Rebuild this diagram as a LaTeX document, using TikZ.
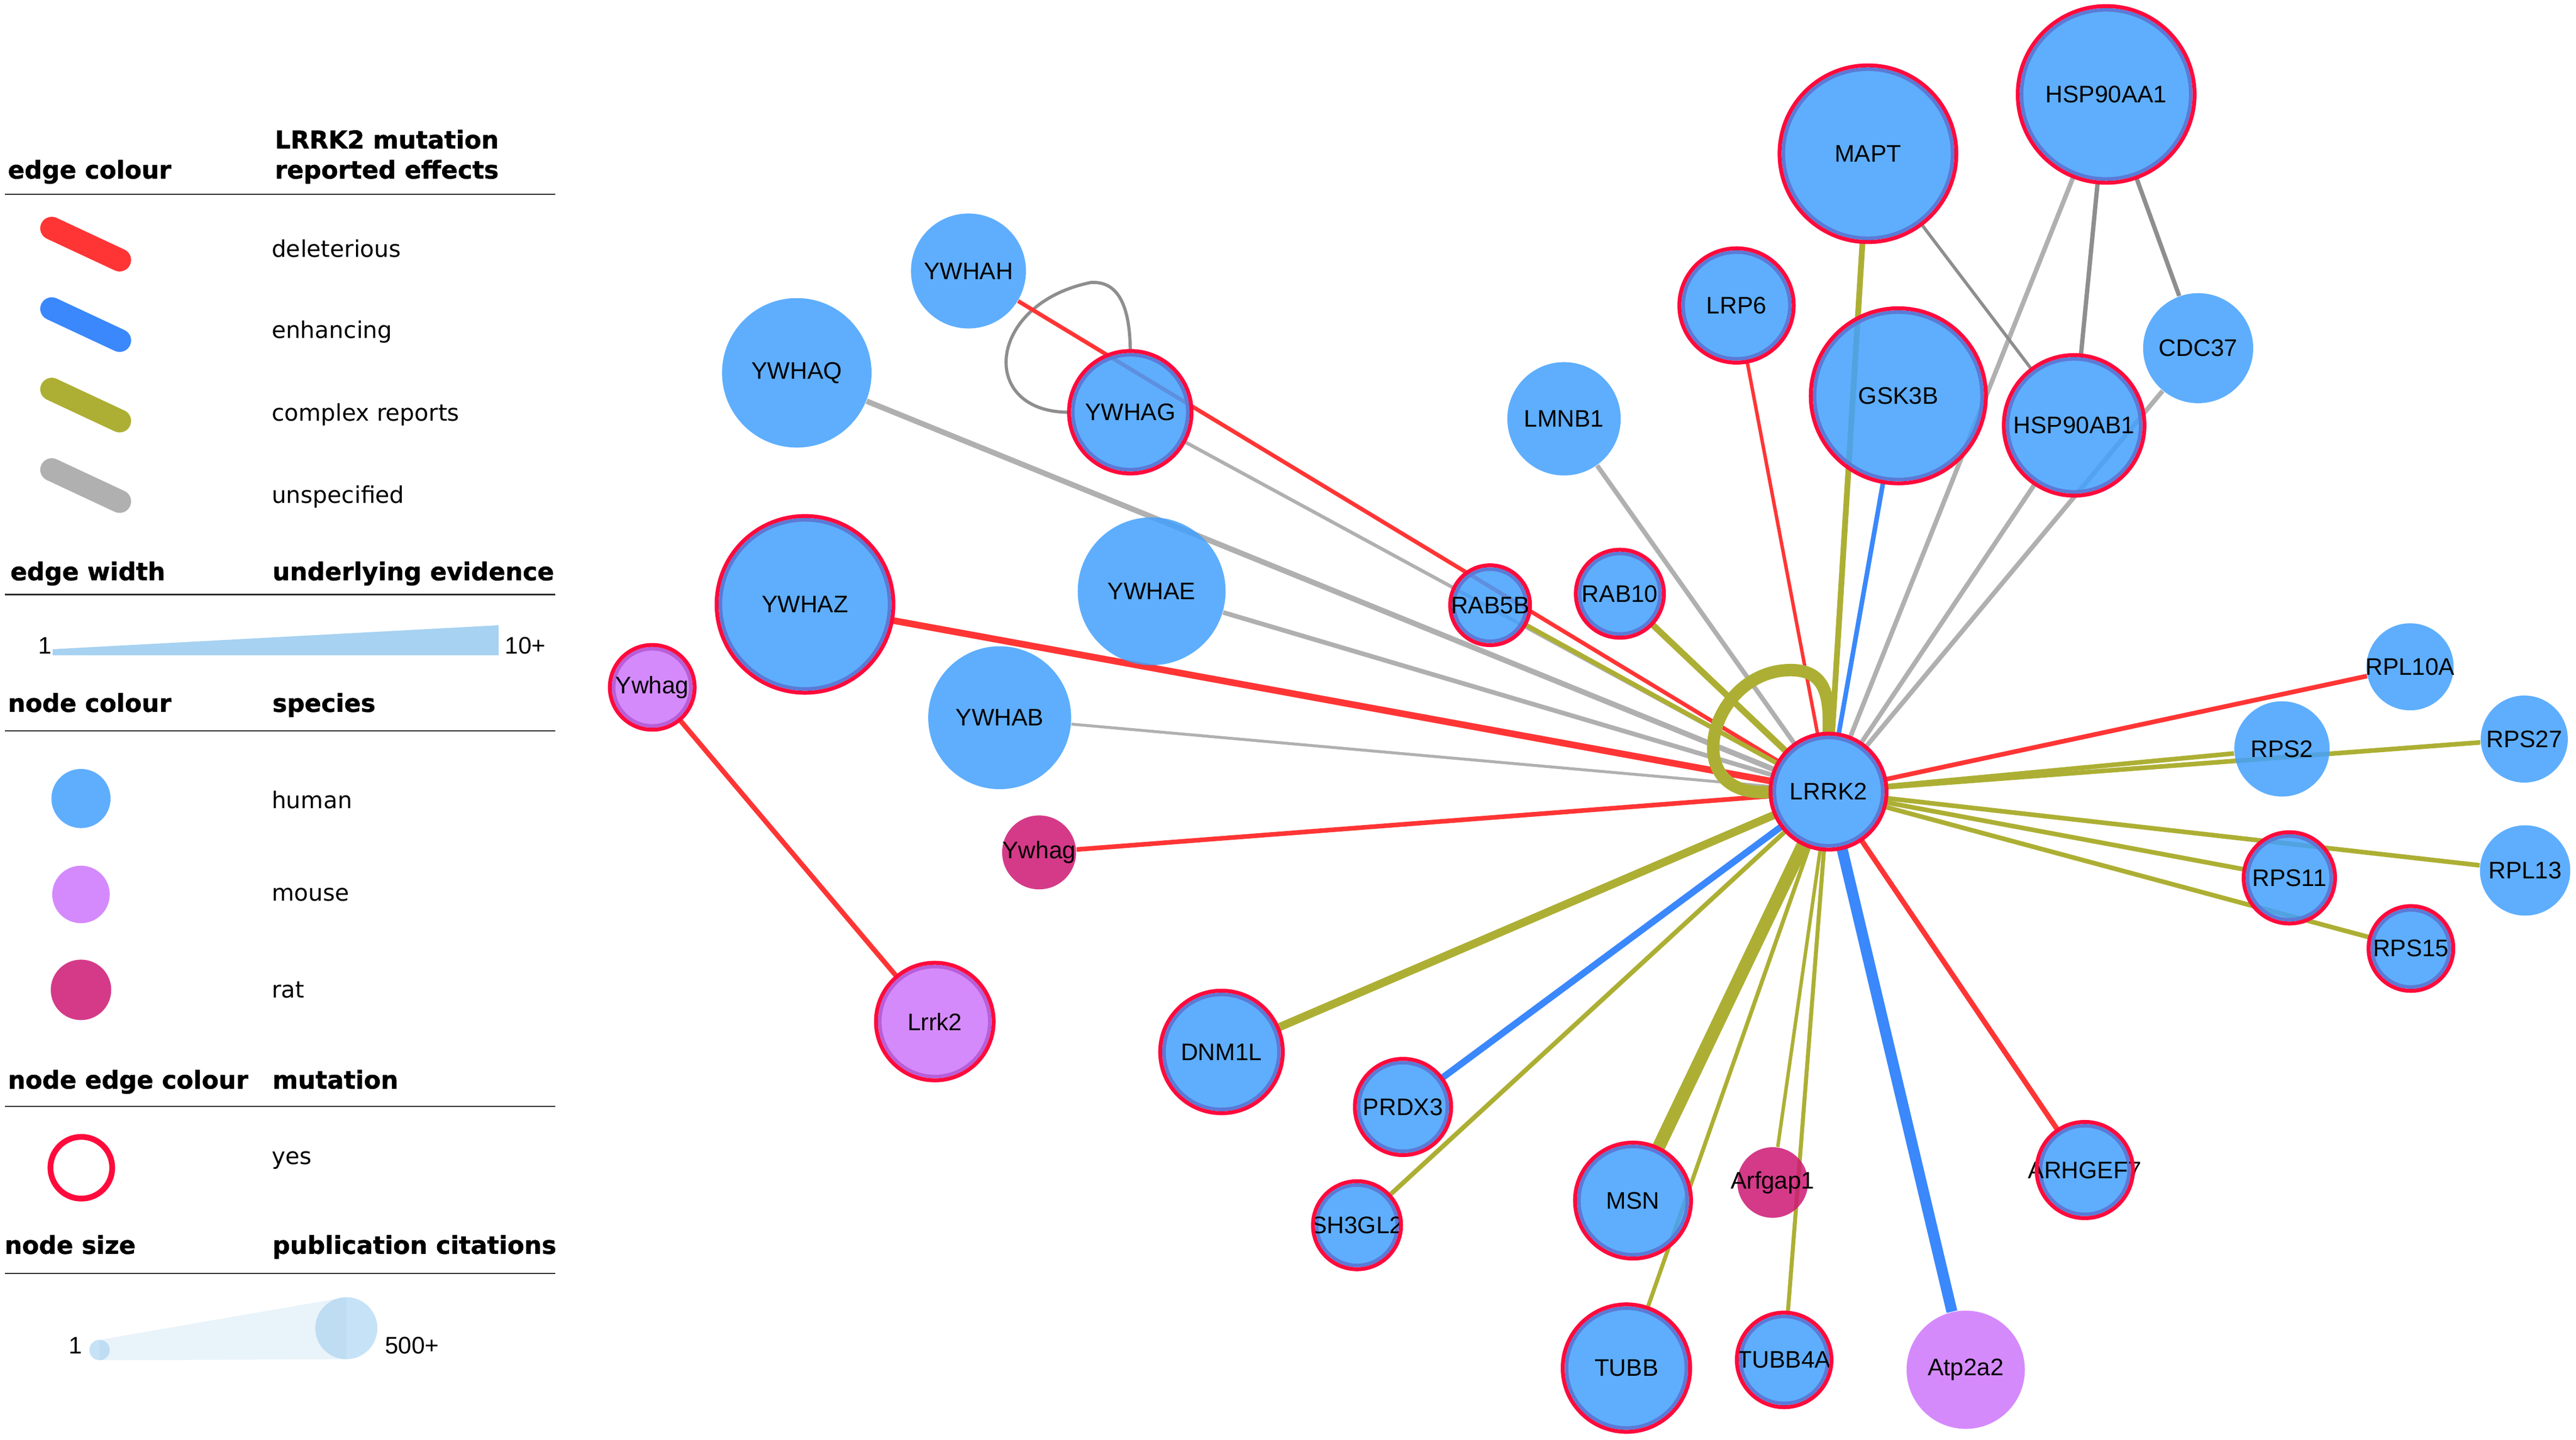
\documentclass[tikz,border=0pt]{standalone}
\usepackage{fontspec}
\setmainfont{Liberation Sans}
\newfontfamily\legfont{DejaVu Sans}
\newfontface\hdfont{DejaVu Sans Bold}[FakeBold=1.2]
\usepackage{tikz}

\definecolor{humfill}{RGB}{66,160,253}
\definecolor{moufill}{RGB}{206,117,252}
\definecolor{ratfill}{RGB}{204,23,115}
\definecolor{ringh}{RGB}{91,122,214}
\definecolor{ringm}{RGB}{184,95,216}
\definecolor{mutred}{RGB}{255,10,60}
\definecolor{cdel}{RGB}{255,53,53}
\definecolor{cenh}{RGB}{58,136,251}
\definecolor{ccpx}{RGB}{173,175,52}
\definecolor{cuns}{RGB}{176,176,176}
\definecolor{cunsd}{RGB}{142,142,142}
\definecolor{humleg}{RGB}{95,174,253}
\definecolor{mouleg}{RGB}{212,138,252}
\definecolor{ratleg}{RGB}{212,58,136}
\definecolor{wedge}{RGB}{167,210,241}
\definecolor{sizec}{RGB}{198,226,247}
\definecolor{sizew}{RGB}{169,207,235}

\pgfdeclarelayer{edges}
\pgfsetlayers{edges,main}

\begin{document}
\begin{tikzpicture}[x = 0.02cm, y = -0.02cm,
    prot/.style = {circle, inner sep = 0pt, fill opacity = .85, text opacity = 1,
        font = \fontsize{8.3}{10}\selectfont,
        execute at begin node = \hbox to 0pt\bgroup\hss,
        execute at end node = \hss\egroup},
    hum/.style = {prot, fill = humfill},
    mou/.style = {prot, fill = moufill},
    rat/.style = {prot, fill = ratfill},
    sz/.style = {minimum size = #1*0.02cm},
    ring/.style = {circle, draw = mutred, line width = 1.36pt, fill = none, inner sep = 0pt},
    mut/.style = {minimum size = (#1-7)*0.02cm, line width = 1.25pt,
        label = {[ring, minimum size = (#1-2.4)*0.02cm]center:{}}},
    hmut/.style = {hum, mut = #1, draw = ringh},
    mmut/.style = {mou, mut = #1, draw = ringm},
    del/.style = {draw = cdel},
    enh/.style = {draw = cenh},
    cpx/.style = {draw = ccpx},
    uns/.style = {draw = cuns},
    unsd/.style = {draw = cunsd},
    hd/.style = {font = \hdfont\fontsize{8.5}{10}\selectfont, inner sep = 0pt, anchor = base west},
    lt/.style = {font = \legfont\fontsize{8}{10}\selectfont, inner sep = 0pt, anchor = base west},
    nt/.style = {font = \fontsize{8.3}{10}\selectfont, inner sep = 0pt, anchor = base west},
    rule/.style = {draw = black!85, line width = 0.5pt},
    key/.style = {line width = 0.28cm, line cap = round}]
    \useasboundingbox (0,0) rectangle (1568,876.5);

    % legend
    \node[hd] (ec) at (4.5,108.7) {edge colour};
    \node[hd] (eff1) at (167,90.4) {LRRK2 mutation};
    \node[hd] (eff2) at (167,108.7) {reported effects};
    \draw[rule] (3,118.3) -- (338,118.3);
    \draw[key, cdel] (31.5,139) -- (72.8,158.3);
    \draw[key, cenh] (31.5,188) -- (72.8,207.3);
    \draw[key, ccpx] (31.5,237) -- (72.8,256.3);
    \draw[key, cuns] (31.5,286) -- (72.8,305.3);
    \node[lt] (tdel) at (165,156.7) {deleterious};
    \node[lt] (tenh) at (165,206) {enhancing};
    \node[lt] (tcpx) at (165,256.4) {complex reports};
    \node[lt] (tuns) at (165,306.5) {unspecified};

    \node[hd] (ew) at (6,353.3) {edge width};
    \node[hd] (ue) at (165.5,353.3) {underlying evidence};
    \draw[rule] (3,362) -- (338,362);
    \fill[wedge] (32,399) -- (32,395.3) -- (303.5,380.7) -- (303.5,399) -- cycle;
    \node[nt] (ew1) at (23,398) {1};
    \node[nt] (ew10) at (307,398) {10+};

    \node[hd] (nc) at (4.5,433.4) {node colour};
    \node[hd] (sp) at (165.5,433.4) {species};
    \draw[rule] (3,445) -- (338,445);
    \fill[humleg] (49.3,486.2) circle[radius = 18];
    \fill[mouleg] (49.3,544.6) circle[radius = 17.5];
    \fill[ratleg] (49.3,602.7) circle[radius = 18.4];
    \node[lt] (thum) at (165,492.2) {human};
    \node[lt] (tmou) at (165,548.7) {mouse};
    \node[lt] (trat) at (165,607.4) {rat};

    \node[hd] (nec) at (4.5,662.8) {node edge colour};
    \node[hd] (mu) at (165.5,662.8) {mutation};
    \draw[rule] (3,673.6) -- (338,673.6);
    \draw[mutred, line width = 2pt] (49.5,711) circle[radius = 18.8];
    \node[lt] (tyes) at (165,709) {yes};

    \node[hd] (ns) at (2.5,763.4) {node size};
    \node[hd] (pc) at (165.5,763.4) {publication citations};
    \draw[rule] (3,775.4) -- (338,775.4);
    \fill[sizec] (60.6,822) circle[radius = 6.2];
    \fill[sizec] (210.8,808.7) circle[radius = 18.9];
    \fill[sizew, fill opacity = .25] (60.6,815.8) -- (210.8,789.8) -- (210.8,827.6) -- (60.6,828.2) -- cycle;
    \node[nt] (ns1) at (41.5,824.3) {1};
    \node[nt] (ns500) at (234,824.3) {500+};

    % proteins
    \node[hmut = 73] (lrrk2) at (1113,482) {LRRK2};
    \node[hum, sz = 70] (ywhah) at (589.5,165) {YWHAH};
    \node[hum, sz = 91] (ywhaq) at (485,227) {YWHAQ};
    \node[hmut = 77] (ywhag) at (688,251) {YWHAG};
    \node[hmut = 110] (ywhaz) at (490,368) {YWHAZ};
    \node[hum, sz = 90] (ywhae) at (701,360) {YWHAE};
    \node[hum, sz = 87] (ywhab) at (608.5,437) {YWHAB};
    \node[mmut = 54] (ywhagm) at (397,418.5) {Ywhag};
    \node[rat, sz = 45] (ywhagr) at (632.5,519) {Ywhag};
    \node[mmut = 74] (lrrk2m) at (569,622) {Lrrk2};
    \node[hmut = 51] (rab5b) at (907,368.5) {RAB5B};
    \node[hmut = 56] (rab10) at (986,361.5) {RAB10};
    \node[hum, sz = 69] (lmnb1) at (952,255) {LMNB1};
    \node[hmut = 72] (lrp6) at (1057,186) {LRP6};
    \node[hmut = 110] (mapt) at (1137,93.6) {MAPT};
    \node[hmut = 109] (gsk3b) at (1155.5,241) {GSK3B};
    \node[hmut = 110] (hsp90aa1) at (1282,57.5) {HSP90AA1};
    \node[hmut = 88] (hsp90ab1) at (1262.5,259) {HSP90AB1};
    \node[hum, sz = 67] (cdc37) at (1338,212) {CDC37};
    \node[hum, sz = 53] (rpl10a) at (1467,406) {RPL10A};
    \node[hum, sz = 58] (rps2) at (1389,456) {RPS2};
    \node[hum, sz = 53] (rps27) at (1536.5,450) {RPS27};
    \node[hmut = 58] (rps11) at (1393.5,534.5) {RPS11};
    \node[hum, sz = 55] (rpl13) at (1537,530) {RPL13};
    \node[hmut = 54] (rps15) at (1467.5,577.5) {RPS15};
    \node[hmut = 61] (arhgef7) at (1269,712.4) {ARHGEF7};
    \node[hmut = 77] (dnm1l) at (743.5,640.5) {DNM1L};
    \node[hmut = 61] (prdx3) at (854,674) {PRDX3};
    \node[hmut = 56] (sh3gl2) at (826,746) {SH3GL2};
    \node[hmut = 73] (msn) at (994,731) {MSN};
    \node[rat, sz = 43] (arfgap1) at (1079,720) {Arfgap1};
    \node[hmut = 80] (tubb) at (990,833) {TUBB};
    \node[hmut = 60] (tubb4a) at (1086,828) {TUBB4A};
    \node[mou, sz = 72] (atp2a2) at (1196.5,834) {Atp2a2};

    \begin{pgfonlayer}{edges}
    \draw[uns, line width = 1.9pt] (ywhaq) -- (lrrk2);
    \draw[uns, line width = 1.2pt] (ywhag) -- (lrrk2);
    \draw[uns, line width = 1.6pt] (ywhae) -- (lrrk2);
    \draw[uns, line width = 1.0pt] (ywhab) -- (lrrk2);
    \draw[uns, line width = 1.6pt] (lmnb1) -- (lrrk2);
    \draw[uns, line width = 1.6pt] (hsp90aa1) -- (lrrk2);
    \draw[uns, line width = 1.6pt] (hsp90ab1) -- (lrrk2);
    \draw[uns, line width = 1.6pt] (cdc37) -- (lrrk2);
    \draw[unsd, line width = 1.1pt] (mapt) -- (hsp90ab1);
    \draw[unsd, line width = 1.5pt] (hsp90aa1) -- (hsp90ab1);
    \draw[unsd, line width = 1.5pt] (hsp90aa1) -- (cdc37);
    \draw[unsd, line width = 1.1pt] (ywhag.west) .. controls (595,252) and (600,185) .. (664,172)
        .. controls (680,171) and (688,185) .. (ywhag.north);

    \draw[del, line width = 1.4pt] (ywhah) -- (lrrk2);
    \draw[del, line width = 2.3pt] (ywhaz) -- (lrrk2);
    \draw[del, line width = 1.6pt] (ywhagr) -- (lrrk2);
    \draw[del, line width = 1.7pt] (ywhagm) -- (lrrk2m);
    \draw[del, line width = 1.2pt] (lrp6) -- (lrrk2);
    \draw[del, line width = 1.6pt] (rpl10a) -- (lrrk2);
    \draw[del, line width = 1.8pt] (arhgef7) -- (lrrk2);

    \draw[enh, line width = 1.6pt] (gsk3b) -- (lrrk2);
    \draw[enh, line width = 2.3pt] (prdx3) -- (lrrk2);
    \draw[enh, line width = 3.8pt] (atp2a2) -- (lrrk2);

    \draw[cpx, line width = 2.0pt] (mapt) -- (lrrk2);
    \draw[cpx, line width = 1.6pt] (rab5b) -- (lrrk2);
    \draw[cpx, line width = 2.2pt] (rab10) -- (lrrk2);
    \draw[cpx, line width = 4.3pt] (lrrk2.west) .. controls (1020,488) and (1040,408) .. (1090,408)
        .. controls (1112,408) and (1114,425) .. (lrrk2.north);
    \draw[cpx, line width = 1.6pt] (rps2) -- (lrrk2);
    \draw[cpx, line width = 1.6pt] (rps27) -- (lrrk2);
    \draw[cpx, line width = 1.6pt] (rps11) -- (lrrk2);
    \draw[cpx, line width = 1.6pt] (rpl13) -- (lrrk2);
    \draw[cpx, line width = 1.6pt] (rps15) -- (lrrk2);
    \draw[cpx, line width = 2.8pt] (dnm1l) -- (lrrk2);
    \draw[cpx, line width = 1.6pt] (sh3gl2) -- (lrrk2);
    \draw[cpx, line width = 4.5pt] (msn) -- (lrrk2);
    \draw[cpx, line width = 1.4pt] (tubb) -- (lrrk2);
    \draw[cpx, line width = 1.2pt] (arfgap1) -- (lrrk2);
    \draw[cpx, line width = 1.4pt] (tubb4a) -- (lrrk2);
    \end{pgfonlayer}
\end{tikzpicture}
\end{document}
